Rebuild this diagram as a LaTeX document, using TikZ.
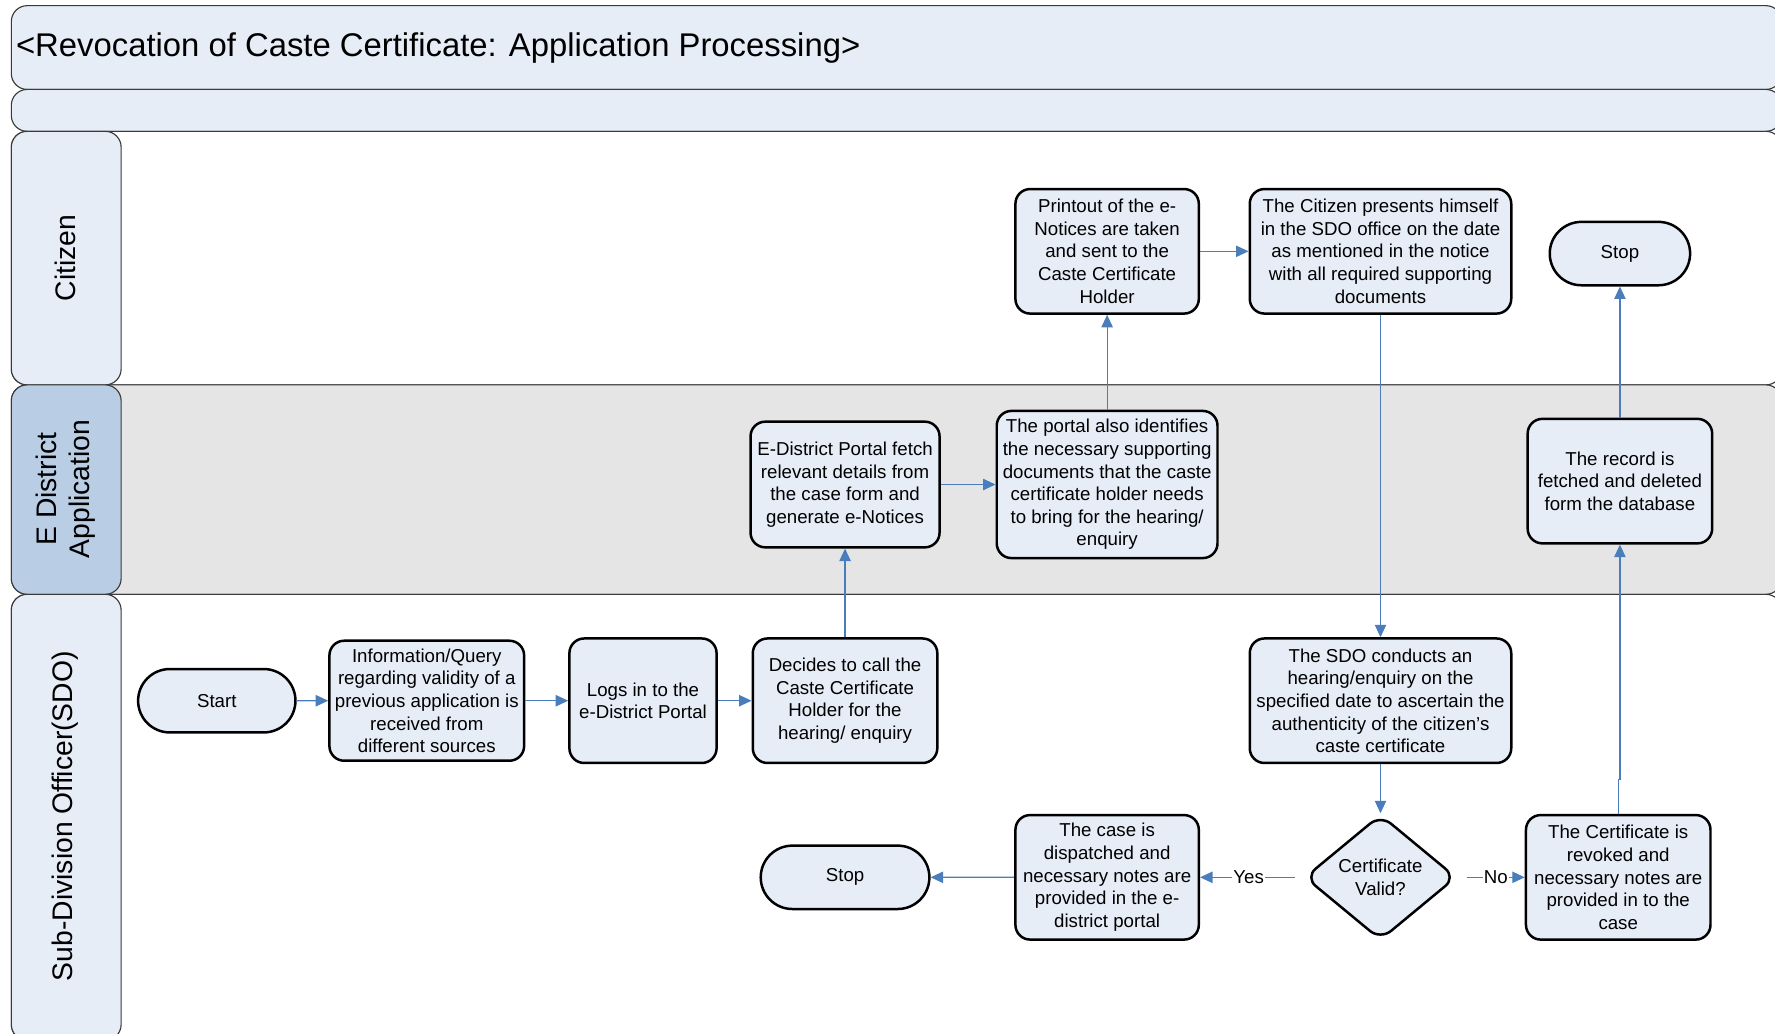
\documentclass[tikz,border=0pt]{standalone}
\usepackage{fontspec}
\setmainfont{Liberation Sans}
\usetikzlibrary{arrows.meta,shapes.geometric,shapes.misc}

\definecolor{boxfill}{HTML}{E6EDF7}
\definecolor{headblue}{HTML}{B9CDE5}
\definecolor{lanegray}{HTML}{E5E5E5}
\definecolor{laneline}{HTML}{3A3A3A}
\definecolor{flowblue}{HTML}{4A7EBB}

\begin{document}
\begin{tikzpicture}[x=1pt,y=-1pt,
  lane/.style={draw=laneline, line width=1pt, rounded corners=14pt},
  boxtext/.style={font=\fontsize{16.5}{20}\selectfont, align=center, inner sep=0pt},
  proc/.style={boxtext, draw=black, line width=2.2pt, fill=boxfill, rounded corners=13pt},
  term/.style={boxtext, draw=black, line width=2.2pt, fill=boxfill, rounded rectangle, minimum height=56pt},
  decision/.style={boxtext, draw=black, line width=2.2pt, fill=boxfill, diamond, aspect=1.2, rounded corners=12pt, minimum width=134pt, minimum height=111pt},
  lanelabel/.style={rotate=90, font=\fontsize{25}{29}\selectfont, align=center, inner sep=0pt},
  flow/.style={draw=flowblue, line width=1.1pt, -{Triangle[length=11pt,width=10pt]}},
  lbl/.style={font=\fontsize{16.5}{20}\selectfont, fill=white, inner sep=1pt}
]
\useasboundingbox (0,0) rectangle (1568,913);

% ---- pool and swimlanes ----
\begin{scope}
  \clip (0,0) rectangle (1568,913);
  \draw[lane, fill=boxfill]  (10,5)   rectangle (1574,79);
  \draw[lane, fill=boxfill]  (10,79)  rectangle (1574,116);
  \draw[lane, fill=white]    (10,116) rectangle (1574,340);
  \draw[lane, fill=lanegray] (10,340) rectangle (1574,525);
  \draw[lane, fill=white]    (10,525) rectangle (1574,919);
  \draw[lane, fill=boxfill]  (10,116) rectangle (107,340);
  \draw[lane, fill=headblue] (10,340) rectangle (107,525);
  \draw[lane, fill=boxfill]  (10,525) rectangle (107,919);
\end{scope}

\node[anchor=west, font=\fontsize{29}{35}\selectfont, inner sep=0pt] (title) at (14,42)
  {<Revocation of Caste Certificate: Application Processing>};

\node[lanelabel] (lcit) at (58,228) {Citizen};
\node[lanelabel] (lapp) at (58,432) {E District\\Application};
\node[lanelabel] (lsdo) at (58,721) {Sub-Division Officer(SDO)};

% ---- Sub-Division Officer lane ----
\node[term, minimum width=139pt] (start) at (191.5,619) {Start};
\node[proc, minimum width=172pt, minimum height=106pt] (info) at (377,619)
  {Information/Query\\regarding validity of a\\previous application is\\received from\\different sources};
\node[proc, minimum width=130pt, minimum height=110pt] (logs) at (568,619)
  {Logs in to the\\e-District Portal};
\node[proc, minimum width=163pt, minimum height=110pt] (decide) at (746.5,619)
  {Decides to call the\\Caste Certificate\\Holder for the\\hearing/ enquiry};
\node[proc, minimum width=231pt, minimum height=110pt] (conduct) at (1219.5,619)
  {The SDO conducts an\\hearing/enquiry on the\\specified date to ascertain the\\authenticity of the citizen’s\\caste certificate};
\node[decision] (valid) at (1219.5,775) {Certificate\\Valid?};
\node[proc, minimum width=162pt, minimum height=110pt] (dispatch) at (978,775)
  {The case is\\dispatched and\\necessary notes are\\provided in the e-\\district portal};
\node[proc, minimum width=163pt, minimum height=110pt] (revoke) at (1429.5,775)
  {The Certificate is\\revoked and\\necessary notes are\\provided in to the\\case};
\node[term, minimum width=149pt] (stopb) at (746.5,775) {Stop};

% ---- E District Application lane ----
\node[proc, minimum width=167pt, minimum height=111pt] (fetch) at (746.5,428)
  {E-District Portal fetch\\relevant details from\\the case form and\\generate e-Notices};
\node[proc, minimum width=195pt, minimum height=130pt] (portal) at (978,428)
  {The portal also identifies\\the necessary supporting\\documents that the caste\\certificate holder needs\\to bring for the hearing/\\enquiry};
\node[proc, minimum width=163pt, minimum height=110pt] (record) at (1431,425)
  {The record is\\fetched and deleted\\form the database};

% ---- Citizen lane ----
\node[proc, minimum width=162pt, minimum height=110pt] (print) at (978,222)
  {Printout of the e-\\Notices are taken\\and sent to the\\Caste Certificate\\Holder};
\node[proc, minimum width=231pt, minimum height=110pt] (present) at (1219.5,222)
  {The Citizen presents himself\\in the SDO office on the date\\as mentioned in the notice\\with all required supporting\\documents};
\node[term, minimum width=124pt] (stopa) at (1431,224) {Stop};

% ---- connectors ----
\draw[flow] (start) -- (info);
\draw[flow] (info) -- (logs);
\draw[flow] (logs) -- (decide);
\draw[flow] (decide) -- (fetch);
\draw[flow] (fetch) -- (portal);
\draw[flow] (portal) -- (print);
\draw[flow] (print) -- (present);
\draw[flow] (present) -- (conduct);
\draw[flow] (conduct) -- (valid);
\draw[flow, shorten <=7pt] (valid) -- node[lbl, pos=0.53] {Yes} (dispatch);
\draw[flow, shorten <=8pt] (valid) -- node[lbl, pos=0.57] {No} (revoke);
\draw[flow] (dispatch) -- (stopb);
\draw[flow] (revoke.north) -- ++(0,-30) -| (record.south);
\draw[flow] (record) -- (stopa);
\end{tikzpicture}
\end{document}
